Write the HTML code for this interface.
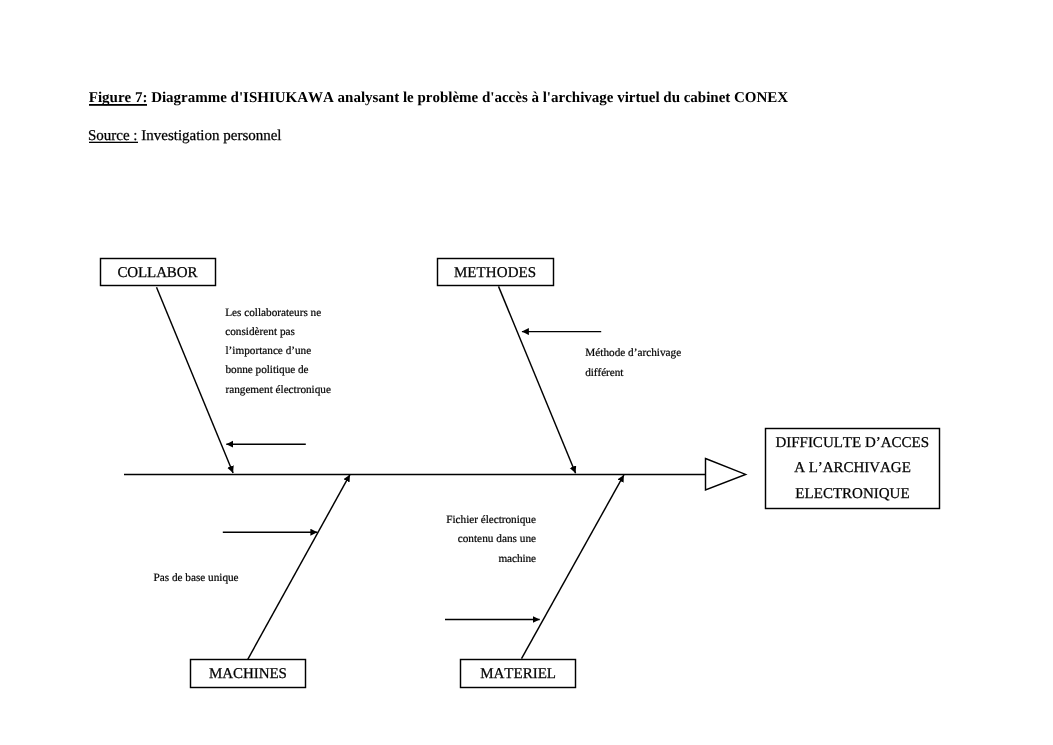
<!DOCTYPE html>
<html>
<head>
<meta charset="utf-8">
<style>
html,body{margin:0;padding:0;background:#fff;width:1053px;height:745px;overflow:hidden;}
svg{position:absolute;left:0;top:0;will-change:transform;}
text{font-family:"Liberation Serif",serif;fill:#000;text-rendering:geometricPrecision;font-kerning:none;font-feature-settings:"kern" 0;}
.t{font-size:15px;font-weight:bold;}
.s{font-size:15px;stroke:#000;stroke-width:0.25px;}
.b{font-size:15px;stroke:#000;stroke-width:0.25px;}
.sm{font-size:11.25px;stroke:#000;stroke-width:0.2px;}
</style>
</head>
<body>
<svg width="1053" height="745" viewBox="0 0 1053 745">
<defs>
<marker id="ah" markerWidth="8" markerHeight="8" refX="7" refY="3.5" orient="auto" markerUnits="userSpaceOnUse">
<path d="M0,0 L7,3.5 L0,7 Z" fill="#000"/>
</marker>
</defs>
<!-- Title -->
<text id="title" class="t" x="88.75" y="102" textLength="699.45" lengthAdjust="spacing">Figure 7: Diagramme d'ISHIUKAWA analysant le problème d'accès à l'archivage virtuel du cabinet CONEX</text>
<text id="source" class="s" x="88" y="140" textLength="193.52" lengthAdjust="spacing">Source : Investigation personnel</text>

<rect x="89" y="104" width="58" height="1.8" fill="#000"/>
<rect x="89" y="141.7" width="49" height="1.3" fill="#000"/>
<g stroke="#000" stroke-width="1.45" fill="none">
<!-- boxes -->
<rect x="100.5" y="258.5" width="115" height="27"/>
<rect x="437.5" y="258.5" width="116" height="27"/>
<rect x="190.5" y="659.5" width="115" height="28"/>
<rect x="460.5" y="659.5" width="115" height="28"/>
<rect x="765.5" y="428.5" width="174" height="80"/>
<!-- spine -->
<line x1="124" y1="474.5" x2="705.5" y2="474.5"/>
<polygon points="705.5,458.5 745.6,474.4 705.5,490"/>
<!-- bones -->
<line x1="156.5" y1="287.3" x2="233.1" y2="473" marker-end="url(#ah)"/>
<line x1="498.5" y1="286.4" x2="575.6" y2="473.2" marker-end="url(#ah)"/>
<line x1="247.8" y1="659.3" x2="349.9" y2="474.7" marker-end="url(#ah)"/>
<line x1="521.5" y1="658.7" x2="623.9" y2="474.9" marker-end="url(#ah)"/>
<!-- small arrows -->
<line x1="305.8" y1="444.2" x2="226.3" y2="444.2" marker-end="url(#ah)"/>
<line x1="601.2" y1="331.6" x2="521.9" y2="331.6" marker-end="url(#ah)"/>
<line x1="222.8" y1="532.2" x2="317.4" y2="532.2" marker-end="url(#ah)"/>
<line x1="445" y1="619.5" x2="539.7" y2="619.5" marker-end="url(#ah)"/>
</g>

<!-- box labels -->
<text id="collabor" class="b" x="117.48" y="277" textLength="79.99" lengthAdjust="spacing">COLLABOR</text>
<text id="methodes" class="b" x="453.96" y="277" textLength="82.17" lengthAdjust="spacing">METHODES</text>
<text id="machines" class="b" x="209.08" y="678" textLength="77.79" lengthAdjust="spacing">MACHINES</text>
<text id="materiel" class="b" x="480.21" y="678" textLength="75.77" lengthAdjust="spacing">MATERIEL</text>
<text id="d1" class="b" x="775.4" y="447" textLength="153.69" lengthAdjust="spacing">DIFFICULTE D’ACCES</text>
<text id="d2" class="b" x="794.18" y="472.3" textLength="116.64" lengthAdjust="spacing">A L’ARCHIVAGE</text>
<text id="d3" class="b" x="795.37" y="497.8" textLength="114.26" lengthAdjust="spacing">ELECTRONIQUE</text>

<!-- small texts -->
<text id="s1" class="sm" x="225.25" y="315.8" textLength="95.97" lengthAdjust="spacing">Les collaborateurs ne</text>
<text id="s2" class="sm" x="225.25" y="335" textLength="69.67" lengthAdjust="spacing">considèrent pas</text>
<text id="s3" class="sm" x="225.5" y="354.2" textLength="85.71" lengthAdjust="spacing">l’importance d’une</text>
<text id="s4" class="sm" x="225.5" y="373.4" textLength="83.08" lengthAdjust="spacing">bonne politique de</text>
<text id="s5" class="sm" x="225.5" y="392.6" textLength="105.39" lengthAdjust="spacing">rangement électronique</text>

<text id="m1" class="sm" x="585.25" y="355.7" textLength="95.91" lengthAdjust="spacing">Méthode d’archivage</text>
<text id="m2" class="sm" x="585.25" y="375.6" textLength="38.13" lengthAdjust="spacing">différent</text>

<text id="f1" class="sm" x="446.27" y="522.7" textLength="89.63" lengthAdjust="spacing">Fichier électronique</text>
<text id="f2" class="sm" x="457.64" y="542" textLength="78.46" lengthAdjust="spacing">contenu dans une</text>
<text id="f3" class="sm" x="498.39" y="561.6" textLength="37.61" lengthAdjust="spacing">machine</text>

<text id="p1" class="sm" x="153.6" y="580.7" textLength="85" lengthAdjust="spacing">Pas de base unique</text>
</svg>
</body>
</html>
